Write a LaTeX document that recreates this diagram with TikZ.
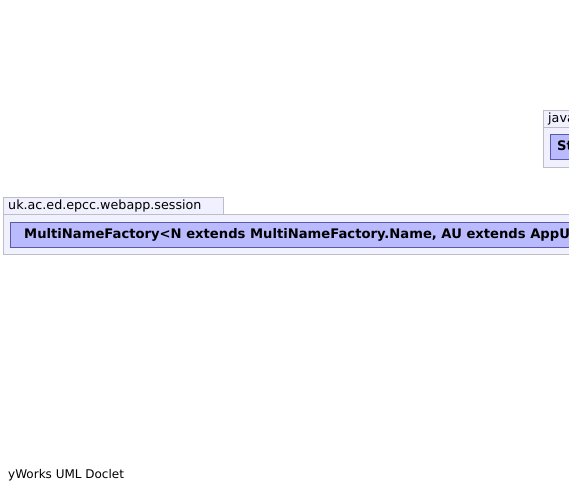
\documentclass[tikz,border=0pt]{standalone}
\usepackage{fontspec}
\setmainfont{DejaVu Sans}
\begin{document}
\begin{tikzpicture}[x=1pt,y=-1pt,
  pkg/.style={draw=black!40!blue!10!white!60!gray, fill=blue!6!white, line width=0.8pt},
  cls/.style={draw=blue!30!gray, fill=blue!27!white, line width=0.8pt},
  tabtext/.style={anchor=west, inner sep=0pt, font=\fontsize{12.7}{14}\selectfont},
  clstext/.style={anchor=west, inner sep=0pt, font=\bfseries\fontsize{13.15}{15}\selectfont}]
\useasboundingbox (0,0) rectangle (569,493);
\clip (0,0) rectangle (569,493);
% package uk.ac.ed.epcc.webapp.session
\path[pkg] (3,197) rectangle (223,214.5);
\path[pkg] (3,214.5) rectangle (600,254);
\node[tabtext] (p1) at (8,206) {uk.ac.ed.epcc.webapp.session};
\path[cls] (10,222) rectangle (600,247);
\node[clstext] (c1) at (24,234.5) {MultiNameFactory<N extends MultiNameFactory.Name, AU extends AppUser>};
% package java...
\path[pkg] (543,110) rectangle (600,127);
\path[pkg] (543,127) rectangle (600,167);
\node[tabtext] (p2) at (548,118.5) {java.lang};
\path[cls] (550,134) rectangle (600,159);
\node[clstext] (c2) at (557,146.5) {String};
\node[anchor=west, inner sep=0pt, font=\fontsize{12}{14}\selectfont] (yw) at (8,475.5) {yWorks UML Doclet};
\end{tikzpicture}
\end{document}
